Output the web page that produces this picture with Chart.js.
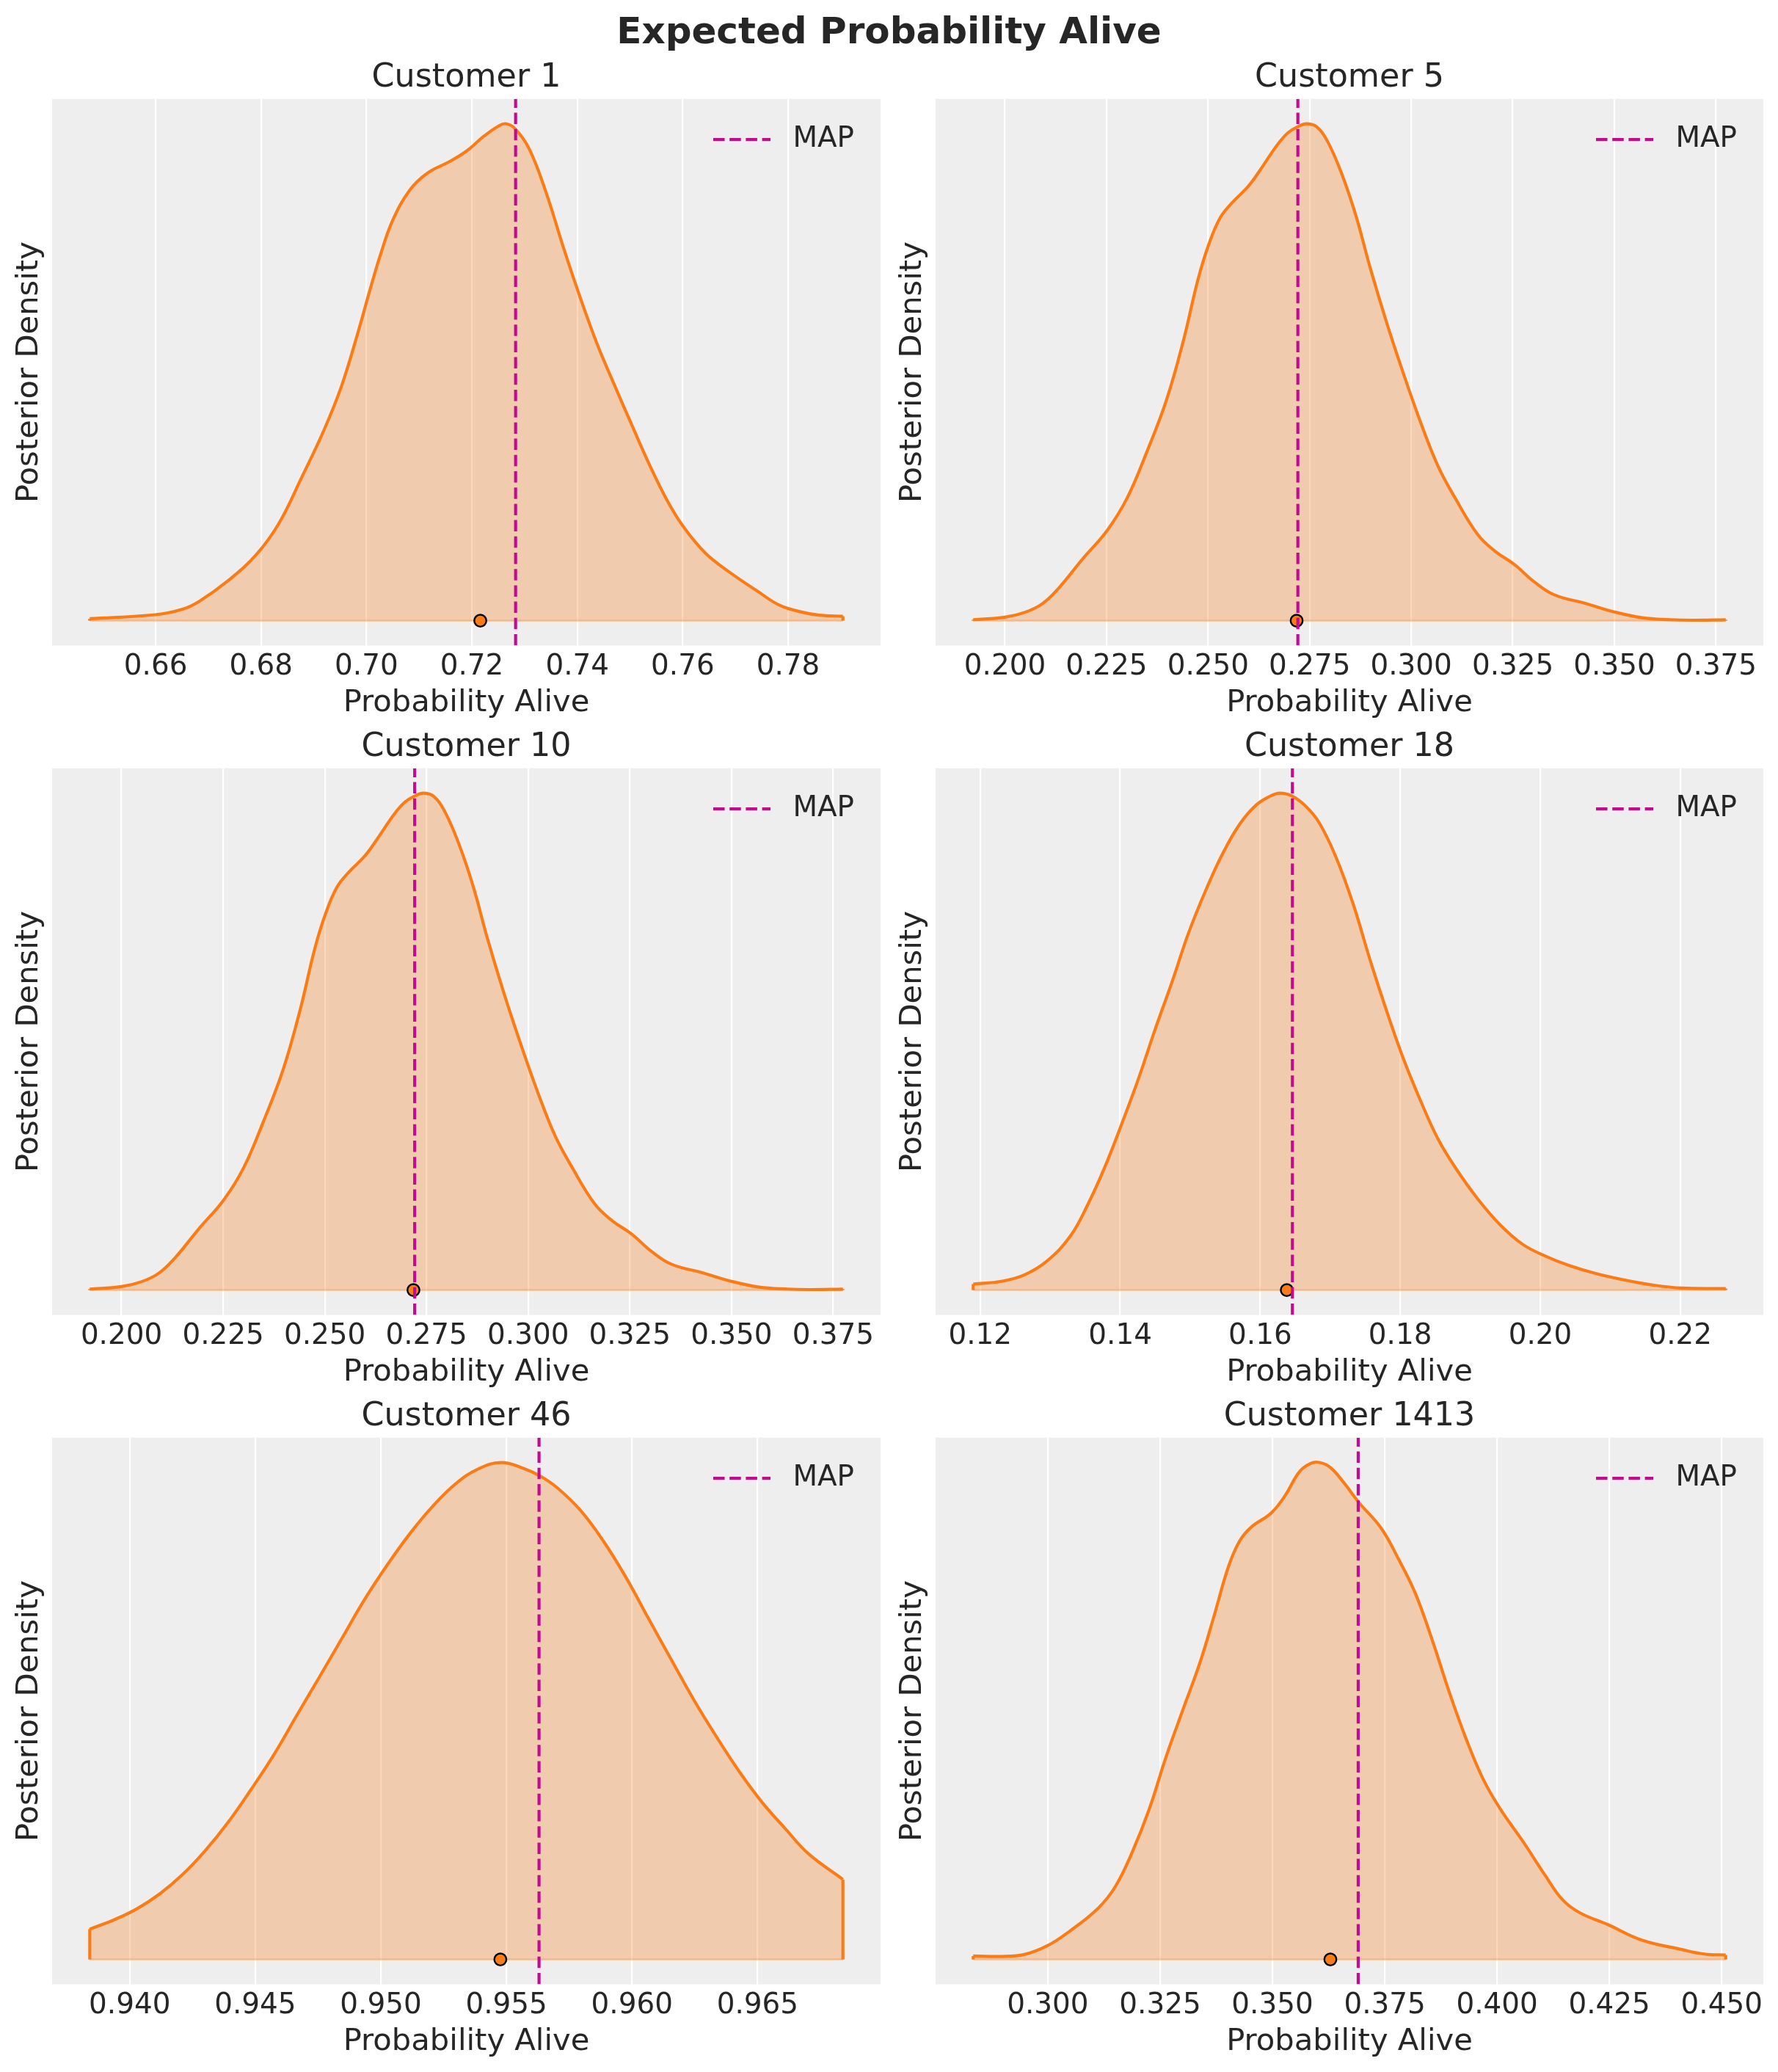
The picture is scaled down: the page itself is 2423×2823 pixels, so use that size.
<!DOCTYPE html>
<html>
<head>
<meta charset="utf-8">
<style>
  html, body { margin: 0; padding: 0; background: #ffffff; }
  #page { position: relative; width: 2423px; height: 2823px; overflow: hidden; }
  #page canvas { position: absolute; }
  #suptitle {
    position: absolute; left: 0; top: 12px; width: 2423px; text-align: center;
    font: bold 50px "DejaVu Sans"; line-height: 60px; color: #262626;
  }
</style>
<script src="https://cdn.jsdelivr.net/npm/chart.js@4/dist/chart.umd.min.js"></script>
</head>
<body>
<div id="page"><div id="suptitle">Expected Probability Alive</div></div>
<script>
// Values, density is relative to each curve's peak
const customers = ['Customer 1', 'Customer 5', 'Customer 10', 'Customer 18', 'Customer 46', 'Customer 1413'];
const mapValues = [0.7283, 0.2721, 0.2721, 0.1646, 0.9563, 0.3691];
const meanValues = [0.7216, 0.2718, 0.2718, 0.1638, 0.95476, 0.3629];

const ticks1 = ['0.66', '0.68', '0.70', '0.72', '0.74', '0.76', '0.78'];
const ticks5 = ['0.200', '0.225', '0.250', '0.275', '0.300', '0.325', '0.350', '0.375'];
const ticks10 = ticks5;
const ticks18 = ['0.12', '0.14', '0.16', '0.18', '0.20', '0.22'];
const ticks46 = ['0.940', '0.945', '0.950', '0.955', '0.960', '0.965'];
const ticks1413 = ['0.300', '0.325', '0.350', '0.375', '0.400', '0.425', '0.450'];

const x1 = [0.6475, 0.66, 0.6651, 0.6683, 0.6737, 0.6791, 0.6834, 0.6877, 0.692, 0.6953, 0.6985, 0.7007, 0.7028, 0.705, 0.7082, 0.7115, 0.7158, 0.719, 0.7223, 0.725, 0.7264, 0.7282, 0.7309, 0.7341, 0.7374, 0.7406, 0.7438, 0.7471, 0.7503, 0.7536, 0.7568, 0.76, 0.7643, 0.7687, 0.7741, 0.7784, 0.7827, 0.7859, 0.7904];
const density1 = [0.004, 0.012, 0.023, 0.039, 0.08, 0.133, 0.196, 0.288, 0.385, 0.473, 0.584, 0.667, 0.741, 0.806, 0.866, 0.9, 0.924, 0.945, 0.975, 0.995, 1, 0.99, 0.949, 0.861, 0.75, 0.649, 0.556, 0.473, 0.395, 0.316, 0.247, 0.191, 0.136, 0.099, 0.06, 0.031, 0.017, 0.011, 0.009];

const x5 = [0.1922, 0.2, 0.205, 0.2092, 0.2134, 0.2189, 0.2252, 0.2301, 0.2349, 0.2398, 0.244, 0.2475, 0.2503, 0.253, 0.2558, 0.26, 0.2635, 0.267, 0.2697, 0.2721, 0.2742, 0.2767, 0.2795, 0.283, 0.2865, 0.2899, 0.2941, 0.2983, 0.3025, 0.3066, 0.3108, 0.3164, 0.3206, 0.3254, 0.3303, 0.3352, 0.3428, 0.3498, 0.3568, 0.3637, 0.3693, 0.3774];
const density5 = [0.002, 0.007, 0.017, 0.034, 0.067, 0.122, 0.182, 0.247, 0.339, 0.445, 0.566, 0.686, 0.76, 0.811, 0.84, 0.875, 0.915, 0.957, 0.982, 0.994, 1, 0.994, 0.963, 0.897, 0.812, 0.71, 0.596, 0.492, 0.395, 0.311, 0.247, 0.173, 0.14, 0.113, 0.078, 0.052, 0.035, 0.018, 0.006, 0.002, 0.001, 0.002];

// customer 10 has the same posterior as customer 5 in the picture
const x10 = x5;
const density10 = density5;

const x18 = [0.119, 0.1232, 0.1264, 0.1296, 0.1329, 0.1353, 0.1377, 0.1401, 0.1426, 0.145, 0.1474, 0.1498, 0.1523, 0.1547, 0.1571, 0.1595, 0.1616, 0.1628, 0.1644, 0.1664, 0.1684, 0.1708, 0.1733, 0.1757, 0.1781, 0.1805, 0.183, 0.1854, 0.1878, 0.1911, 0.1943, 0.1975, 0.2008, 0.204, 0.208, 0.2121, 0.2161, 0.2202, 0.2265];
const density18 = [0.012, 0.018, 0.031, 0.059, 0.109, 0.17, 0.244, 0.33, 0.425, 0.525, 0.62, 0.72, 0.807, 0.88, 0.938, 0.977, 0.995, 1, 0.995, 0.975, 0.941, 0.872, 0.776, 0.664, 0.56, 0.464, 0.378, 0.304, 0.248, 0.183, 0.131, 0.092, 0.068, 0.05, 0.033, 0.02, 0.01, 0.004, 0.003];

const x46 = [0.93841, 0.93939, 0.94029, 0.9412, 0.94211, 0.94301, 0.94392, 0.94482, 0.94573, 0.94663, 0.94754, 0.94845, 0.94935, 0.95026, 0.95116, 0.95207, 0.95298, 0.95388, 0.95479, 0.95569, 0.95637, 0.95705, 0.95796, 0.95886, 0.95977, 0.96067, 0.96158, 0.96249, 0.96339, 0.9643, 0.9652, 0.96611, 0.96702, 0.9684];
const density46 = [0.061, 0.08, 0.102, 0.132, 0.171, 0.219, 0.276, 0.341, 0.411, 0.489, 0.567, 0.646, 0.724, 0.794, 0.857, 0.912, 0.957, 0.987, 1, 0.988, 0.972, 0.948, 0.903, 0.842, 0.768, 0.685, 0.602, 0.52, 0.446, 0.376, 0.315, 0.263, 0.213, 0.161];

const x1413 = [0.2834, 0.2898, 0.2948, 0.3, 0.3049, 0.3112, 0.315, 0.3188, 0.3226, 0.3263, 0.3301, 0.3339, 0.3371, 0.3402, 0.3427, 0.3453, 0.3497, 0.3528, 0.356, 0.3585, 0.3604, 0.3629, 0.3661, 0.3692, 0.3742, 0.378, 0.3818, 0.3856, 0.3894, 0.3932, 0.3969, 0.4007, 0.4058, 0.4108, 0.4146, 0.4184, 0.4247, 0.4322, 0.4411, 0.4461, 0.4509];
const density1413 = [0.007, 0.006, 0.01, 0.028, 0.057, 0.103, 0.146, 0.216, 0.303, 0.407, 0.503, 0.598, 0.694, 0.79, 0.842, 0.87, 0.898, 0.933, 0.981, 0.998, 1, 0.99, 0.957, 0.92, 0.868, 0.807, 0.737, 0.642, 0.537, 0.442, 0.363, 0.303, 0.237, 0.168, 0.12, 0.094, 0.07, 0.039, 0.02, 0.011, 0.009];

const xSeries = [x1, x5, x10, x18, x46, x1413];
const densitySeries = [density1, density5, density10, density18, density46, density1413];
const tickSeries = [ticks1, ticks5, ticks10, ticks18, ticks46, ticks1413];

const ORANGE = '#fa7c17';
const ORANGE_FILL = 'rgba(250, 124, 23, 0.3)';
const MAGENTA = '#c10c90';
const TEXT = '#262626';
const FONT = '"DejaVu Sans"';
const LINE_W = 4.17;

// layout of the subplots, in page pixels
const ROW_STEP = 912;
const CANVAS_TOP = 76;
const CANVAS_H = 914;
const TITLE_BOX = 58.7;
const PLOT_H = 744.8;
const XAXIS_H = CANVAS_H - TITLE_BOX - PLOT_H;
const YAXIS_W = 71;
const COLUMNS = [{ left: 0, width: 1200 }, { left: 1204, width: 1199 }];

// paints the axes background and moves the legend to the top right of the axes
const axesPlugin = {
    id: 'axesPlugin',
    beforeDraw(chart) {
        const a = chart.chartArea;
        chart.ctx.save();
        chart.ctx.fillStyle = '#eeeeee';
        chart.ctx.fillRect(a.left, a.top, a.right - a.left, a.bottom - a.top);
        chart.ctx.restore();
    },
    afterLayout(chart) {
        const a = chart.chartArea;
        Object.assign(chart.legend, { left: a.right - 228, right: a.right, top: a.top + 36, bottom: a.bottom });
    }
};

function buildChart(i) {
    const xs = xSeries[i];
    const ys = densitySeries[i];
    const last = xs.length - 1;
    const margin = (xs[last] - xs[0]) * 0.05;
    const tickLabels = tickSeries[i];
    const col = COLUMNS[i % 2];

    const canvas = document.createElement('canvas');
    canvas.width = col.width;
    canvas.height = CANVAS_H;
    canvas.style.left = col.left + 'px';
    canvas.style.top = (CANVAS_TOP + ROW_STEP * Math.floor(i / 2)) + 'px';
    document.getElementById('page').appendChild(canvas);

    new Chart(canvas.getContext('2d'), {
        type: 'line',
        data: {
            datasets: [{
                label: 'MAP',
                data: [{ x: mapValues[i], y: -0.05 }, { x: mapValues[i], y: 1.05 }],
                borderColor: MAGENTA,
                borderWidth: LINE_W,
                borderDash: [15.5, 6.7],
                pointRadius: 0,
                order: 0
            }, {
                label: 'Mean',
                data: [{ x: meanValues[i], y: 0 }],
                showLine: false,
                pointRadius: 8.2,
                pointBackgroundColor: ORANGE,
                pointBorderColor: '#000000',
                pointBorderWidth: 2.4,
                order: 1
            }, {
                label: 'Ends',
                data: [
                    { x: xs[0], y: 0 }, { x: xs[0], y: ys[0] }, { x: xs[0], y: null },
                    { x: xs[last], y: ys[last] }, { x: xs[last], y: 0 }
                ],
                borderColor: ORANGE,
                borderWidth: LINE_W,
                pointRadius: 0,
                order: 2
            }, {
                label: 'Density',
                data: xs.map((x, k) => ({ x: x, y: ys[k] })),
                borderColor: ORANGE,
                borderWidth: LINE_W,
                backgroundColor: ORANGE_FILL,
                fill: 'origin',
                tension: 0.4,
                pointRadius: 0,
                order: 3
            }, {
                label: 'Base',
                data: [{ x: xs[0], y: 0 }, { x: xs[last], y: 0 }],
                borderColor: ORANGE_FILL,
                borderWidth: 2.8,
                pointRadius: 0,
                order: 4
            }]
        },
        options: {
            responsive: false,
            animation: false,
            events: [],
            layout: { padding: 0, autoPadding: false },
            scales: {
                x: {
                    type: 'linear',
                    min: xs[0] - margin,
                    max: xs[last] + margin,
                    border: { display: false },
                    grid: { color: '#ffffff', lineWidth: 2.2, drawTicks: false },
                    afterBuildTicks(scale) {
                        scale.ticks = tickLabels.map(t => ({ value: Number(t) }));
                    },
                    afterFit(scale) {
                        scale.height = XAXIS_H;
                        scale.paddingLeft = 0;
                        scale.paddingRight = 0;
                    },
                    ticks: {
                        autoSkip: false,
                        maxRotation: 0,
                        padding: 6,
                        color: TEXT,
                        font: { family: FONT, size: 38.9 },
                        callback: (value, index) => tickLabels[index]
                    },
                    title: {
                        display: true,
                        text: 'Probability Alive',
                        color: TEXT,
                        font: { family: FONT, size: 41.7 },
                        padding: { top: 0, bottom: 7 }
                    }
                },
                y: {
                    type: 'linear',
                    min: -0.05,
                    max: 1.05,
                    border: { display: false },
                    grid: { display: false },
                    ticks: { display: false },
                    afterFit(scale) {
                        scale.width = YAXIS_W;
                    },
                    title: {
                        display: true,
                        text: 'Posterior Density',
                        color: TEXT,
                        font: { family: FONT, size: 41.7 },
                        padding: { top: 15.6, bottom: 0 }
                    }
                }
            },
            plugins: {
                title: {
                    display: true,
                    fullSize: false,
                    text: customers[i],
                    color: TEXT,
                    font: { family: FONT, size: 44.4, weight: 'normal' },
                    padding: { top: 4, bottom: 1.42 }
                },
                legend: {
                    display: true,
                    position: 'chartArea',
                    align: 'start',
                    labels: {
                        usePointStyle: true,
                        pointStyle: 'line',
                        pointStyleWidth: 89,
                        padding: 0,
                        textAlign: 'left',
                        color: TEXT,
                        font: { family: FONT, size: 38.9 },
                        generateLabels(chart) {
                            // swatch box is wider than the line, the long last gap keeps the text clear of it
                            return Chart.defaults.plugins.legend.labels.generateLabels(chart)
                                .filter(item => item.text === 'MAP')
                                .map(item => Object.assign(item, {
                                    lineDash: [15.5, 6.7, 15.5, 6.7, 15.5, 6.7, 11.4, 100],
                                    pointStyle: 'line',
                                    textAlign: 'left'
                                }));
                        }
                    }
                },
                tooltip: { enabled: false }
            }
        },
        plugins: [axesPlugin]
    });
}

customers.forEach((name, i) => buildChart(i));
</script>
</body>
</html>
